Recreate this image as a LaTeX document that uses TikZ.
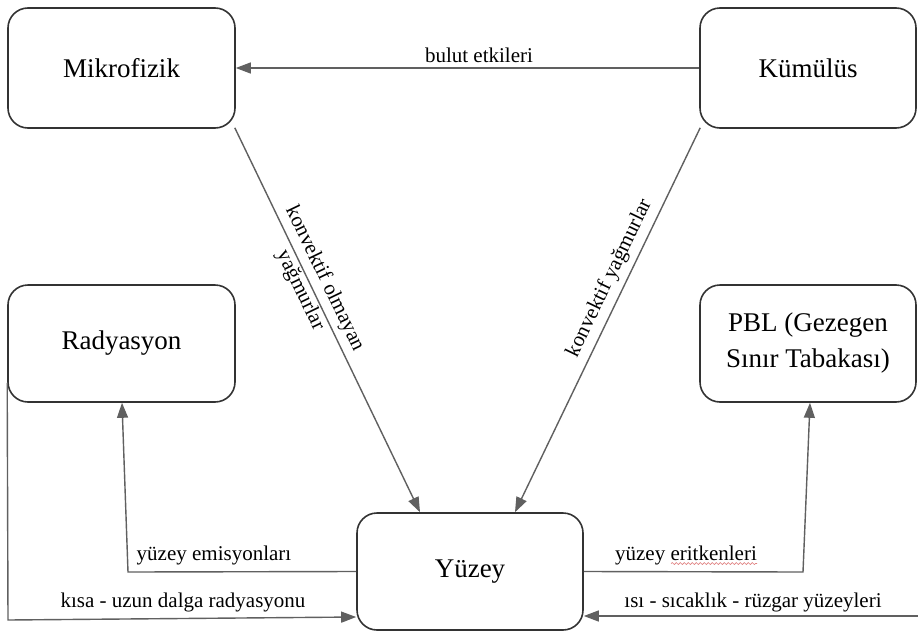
\documentclass[tikz,border=0pt]{standalone}
\usepackage{fontspec}
\setmainfont{Liberation Serif}
\usetikzlibrary{arrows.meta,calc,decorations.pathmorphing}
\definecolor{boxline}{HTML}{333333}
\definecolor{conn}{HTML}{606060}
\definecolor{spell}{HTML}{E08080}
\tikzset{
  boxnode/.style={draw=boxline, line width=1.6pt, rounded corners=20pt, align=center,
    font=\fontsize{27}{36}\selectfont, inner sep=0pt},
  conline/.style={draw=conn, line width=1.4pt, -{Triangle[length=15pt,width=11pt]}},
  elabel/.style={font=\fontsize{21}{26}\selectfont, inner sep=0pt, align=center},
  spellmark/.style={draw=spell, line width=0.6pt, decorate,
    decoration={snake, amplitude=1pt, segment length=4pt}}
}
\begin{document}
\begin{tikzpicture}[x=1pt,y=-1pt]
\useasboundingbox (0,0) rectangle (918,632);
\fill[white] (0,0) rectangle (918,632);

\node[boxnode, minimum width=227pt, minimum height=120pt] (mik) at (121.5,68) {Mikrofizik};
\node[boxnode, minimum width=216pt, minimum height=120pt] (kum) at (808,68) {Kümülüs};
\node[boxnode, minimum width=227pt, minimum height=117pt] (rad) at (121.5,343.5) {Radyasyon};
\node[boxnode, minimum width=216pt, minimum height=117pt] (pbl) at (808,343.5) {PBL (Gezegen\\Sınır Tabakası)};
\node[boxnode, minimum width=226pt, minimum height=117pt] (yuz) at (470,571.5) {Yüzey};

% bulut etkileri
\draw[conline] (kum.west) -- (mik.east);
\node[elabel] (lbu) at (479,55) {bulut etkileri};

% konvektif olmayan yagmurlar
\draw[conline] ([xshift=-1pt,yshift=1pt]mik.south east) -- ([xshift=-50pt]yuz.north)
  node[elabel, sloped, pos=0.41, above=5pt] (lko1) {konvektif olmayan}
  node[elabel, sloped, pos=0.41, below=1.5pt] (lko2) {yağmurlar};

% konvektif yagmurlar
\draw[conline] ([xshift=1pt,yshift=1pt]kum.south west) -- ([xshift=45pt]yuz.north)
  node[elabel, sloped, pos=0.41, above=6pt] (lkv) {konvektif yağmurlar};

% yuzey emisyonlari
\coordinate (c1) at (128,572);
\draw[conline] (yuz.west) -- (c1) -- ([xshift=0.5pt]rad.south);
\node[elabel] (lye) at (214,555) {yüzey emisyonları};

% kisa - uzun dalga radyasyonu
\coordinate (c2) at (8,620);
\draw[conline] ([yshift=20pt]rad.south west) -- (c2) -- ([yshift=-45.5pt]yuz.west);
\node[elabel] (lku) at (183,602) {kısa - uzun dalga radyasyonu};

% yuzey eritkenleri
\coordinate (c3) at (803,572);
\draw[conline] (yuz.east) -- (c3) -- ([xshift=2pt]pbl.south);
\node[elabel] (lyr) at (686,555) {yüzey eritkenleri};
\draw[spellmark] ($(lyr.base east)+(-86,3.5)$) -- ($(lyr.base east)+(0,3.5)$);

% isi - sicaklik - ruzgar yuzeyleri
\coordinate (c4) at (918,616);
\draw[conline] (c4) -- ([yshift=-44.5pt]yuz.east);
\node[elabel] (lis) at (753,602) {ısı - sıcaklık - rüzgar yüzeyleri};
\end{tikzpicture}
\end{document}
